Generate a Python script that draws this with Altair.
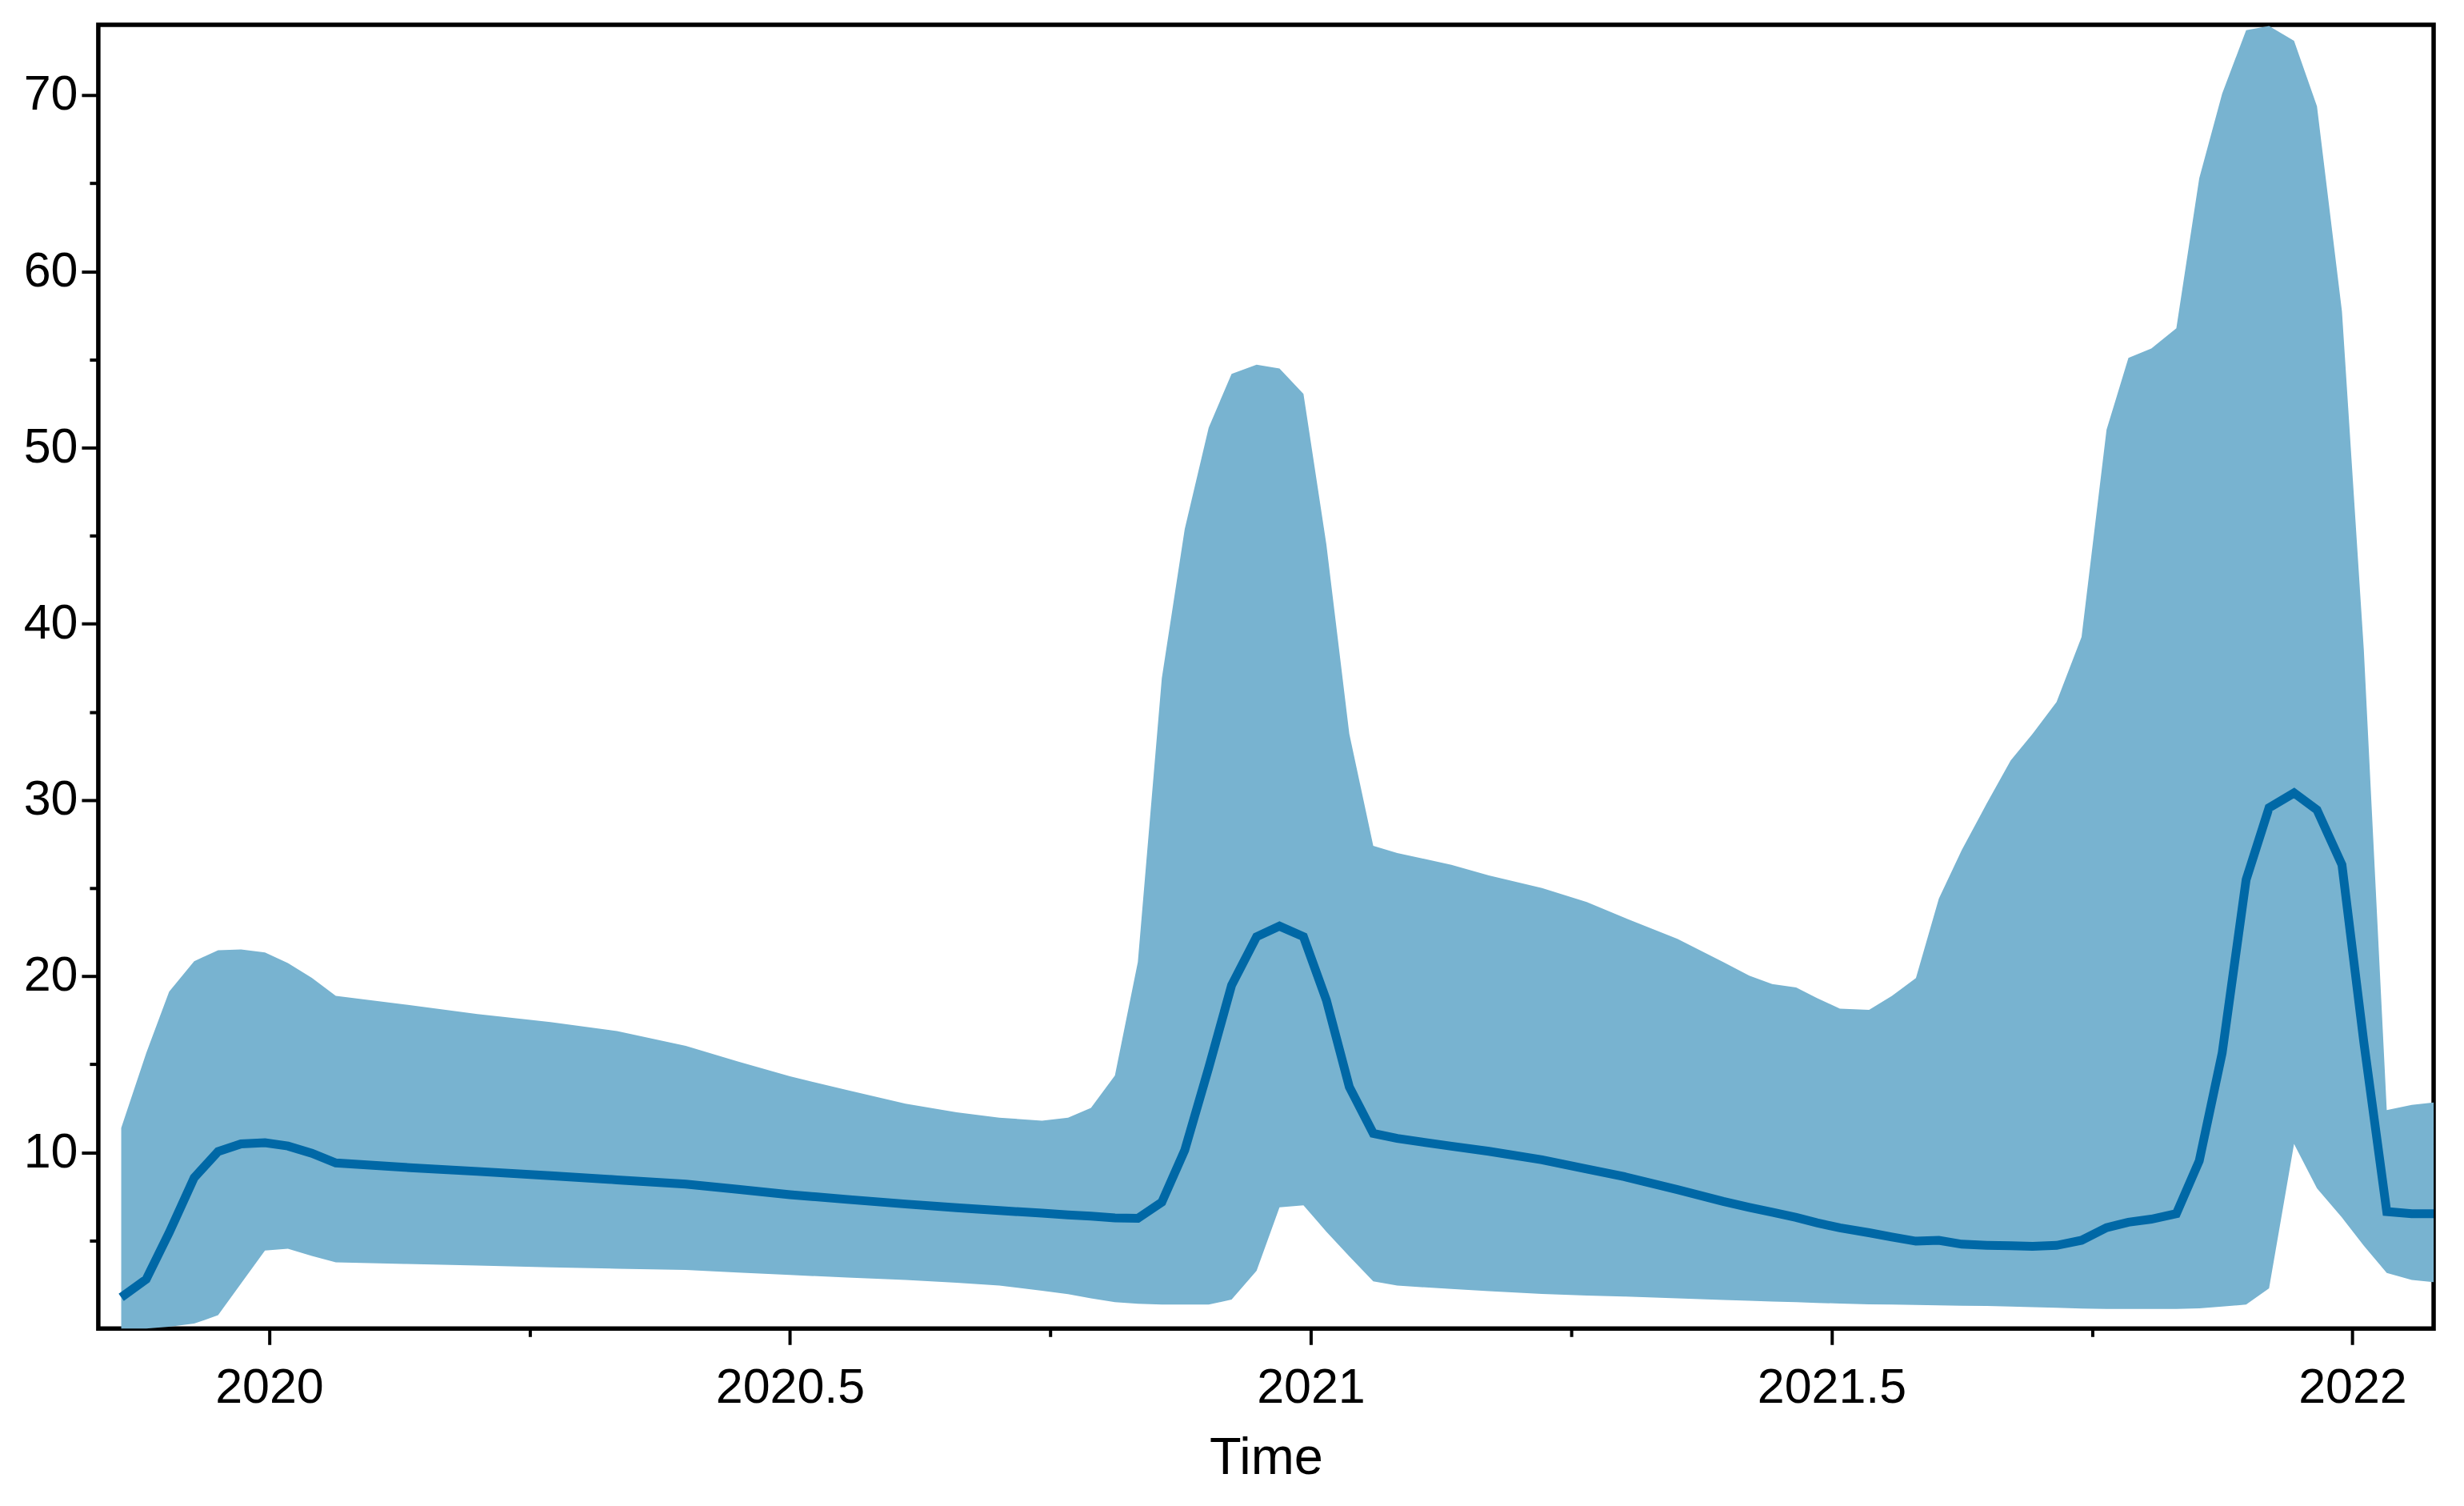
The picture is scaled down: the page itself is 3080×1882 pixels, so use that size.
import altair as alt
import pandas as pd

# ---- data ----
time = [2019.858, 2019.882, 2019.904, 2019.928, 2019.951, 2019.973, 2019.996, 2020.018, 2020.041, 2020.064,
        2020.130, 2020.200, 2020.270, 2020.334, 2020.400, 2020.450, 2020.500, 2020.555, 2020.611, 2020.660,
        2020.701, 2020.742, 2020.767, 2020.789, 2020.812, 2020.834, 2020.857, 2020.879, 2020.902, 2020.924,
        2020.948, 2020.970, 2020.993, 2021.015, 2021.037, 2021.060, 2021.083, 2021.135, 2021.171, 2021.222,
        2021.265, 2021.301, 2021.352, 2021.396, 2021.421, 2021.443, 2021.466, 2021.486, 2021.508, 2021.536,
        2021.558, 2021.581, 2021.603, 2021.625, 2021.649, 2021.672, 2021.693, 2021.716, 2021.740, 2021.764,
        2021.785, 2021.807, 2021.831, 2021.853, 2021.875, 2021.898, 2021.920, 2021.944, 2021.966, 2021.990,
        2022.011, 2022.033, 2022.057, 2022.078]

median = [1.77, 2.80, 5.44, 8.56, 10.05, 10.48, 10.55, 10.36, 9.95, 9.40,
          9.15, 8.92, 8.68, 8.44, 8.20, 7.90, 7.60, 7.33, 7.07, 6.86,
          6.70, 6.55, 6.45, 6.38, 6.28, 6.26, 7.17, 10.12, 14.80, 19.48,
          22.24, 22.84, 22.24, 18.64, 13.72, 11.08, 10.79, 10.35, 10.06, 9.58,
          9.06, 8.62, 7.89, 7.22, 6.88, 6.60, 6.31, 6.00, 5.72, 5.44,
          5.20, 4.96, 5.01, 4.79, 4.73, 4.70, 4.67, 4.72, 5.01, 5.73,
          6.04, 6.21, 6.52, 9.52, 15.64, 25.48, 29.56, 30.40, 29.44, 26.32,
          16.24, 6.64, 6.52, 6.52]

upper = [11.39, 15.64, 19.12, 20.85, 21.47, 21.52, 21.35, 20.75, 19.91, 18.88,
         18.40, 17.85, 17.40, 16.89, 16.05, 15.16, 14.32, 13.53, 12.76, 12.28,
         11.97, 11.80, 11.97, 12.52, 14.37, 20.80, 36.90, 45.37, 51.13, 54.18,
         54.71, 54.49, 53.05, 44.50, 33.76, 27.40, 26.99, 26.32, 25.72, 25.00,
         24.21, 23.32, 22.12, 20.80, 20.03, 19.55, 19.36, 18.76, 18.16, 18.09,
         18.88, 19.89, 24.40, 27.16, 29.80, 32.25, 33.76, 35.56, 39.25, 51.01,
         55.09, 55.62, 56.77, 65.29, 70.09, 73.69, 73.93, 73.09, 69.37, 57.73,
         38.50, 12.40, 12.69, 12.83]

lower = [0.00, 0.00, 0.10, 0.28, 0.76, 2.56, 4.43, 4.53, 4.12, 3.76,
         3.67, 3.58, 3.48, 3.40, 3.33, 3.18, 3.04, 2.90, 2.76, 2.60,
         2.44, 2.15, 1.95, 1.72, 1.50, 1.41, 1.36, 1.36, 1.36, 1.65,
         3.28, 6.88, 7.00, 5.50, 4.10, 2.68, 2.44, 2.25, 2.12, 1.97,
         1.88, 1.82, 1.72, 1.62, 1.58, 1.54, 1.50, 1.46, 1.42, 1.38,
         1.36, 1.34, 1.32, 1.30, 1.28, 1.25, 1.22, 1.18, 1.14, 1.12,
         1.12, 1.12, 1.12, 1.15, 1.25, 1.36, 2.28, 10.48, 7.96, 6.30,
         4.70, 3.16, 2.76, 2.64]

x_tick_values = [2020, 2020.25, 2020.5, 2020.75, 2021, 2021.25, 2021.5, 2021.75, 2022]
y_tick_values = [5, 10, 15, 20, 25, 30, 35, 40, 45, 50, 55, 60, 65, 70]

df = pd.DataFrame({"time": time, "median": median, "upper": upper, "lower": lower})

FONT = "Liberation Sans"
x_major = "abs(datum.value * 2 - round(datum.value * 2)) < 0.001"
y_major = "abs(datum.value % 10) < 0.001"

x_scale = alt.Scale(domain=[2019.836, 2022.078], nice=False, zero=False)
y_scale = alt.Scale(domain=[0, 74], nice=False, zero=False)

x_axis = alt.Axis(
    values=x_tick_values, format="~g",
    labelExpr=f"({x_major}) ? datum.label : ''",
    title="Time", titleFont=FONT, titleFontSize=65, titleFontWeight="normal",
    titleColor="black", titlePadding=26,
    domain=False, grid=False,
    ticks=True, tickColor="black", tickWidth=4,
    tickSize={"condition": {"test": x_major, "value": 20}, "value": 10},
    labelFont=FONT, labelFontSize=61, labelColor="black", labelPadding=24,
    labelFlush=False, labelOverlap=False, labelLimit=0,
)
y_axis = alt.Axis(
    values=y_tick_values,
    labelExpr=f"({y_major}) ? datum.label : ''",
    title=None, domain=False, grid=False,
    ticks=True, tickColor="black", tickWidth=4,
    tickSize={"condition": {"test": y_major, "value": 21}, "value": 11},
    labelFont=FONT, labelFontSize=61, labelColor="black", labelPadding=5,
    labelFlush=False, labelOverlap=False, labelLimit=0,
)

band = alt.Chart(df).mark_area(color="#78B3D0", opacity=1).encode(
    x=alt.X("time:Q", scale=x_scale, axis=x_axis),
    y=alt.Y("upper:Q", scale=y_scale, axis=y_axis),
    y2="lower:Q",
)
line = alt.Chart(df).mark_line(color="#0068A6", strokeWidth=11, strokeJoin="miter").encode(
    x=alt.X("time:Q", scale=x_scale),
    y=alt.Y("median:Q", scale=y_scale),
)

chart = alt.layer(band, line).properties(
    width=2922, height=1631,
    autosize="none",
    padding={"left": 115, "top": 22, "right": 30, "bottom": 200},
    background="white",
).configure_view(stroke="black", strokeWidth=5.5)

chart.save("out.html", embed_options={"renderer": "svg", "actions": False})
